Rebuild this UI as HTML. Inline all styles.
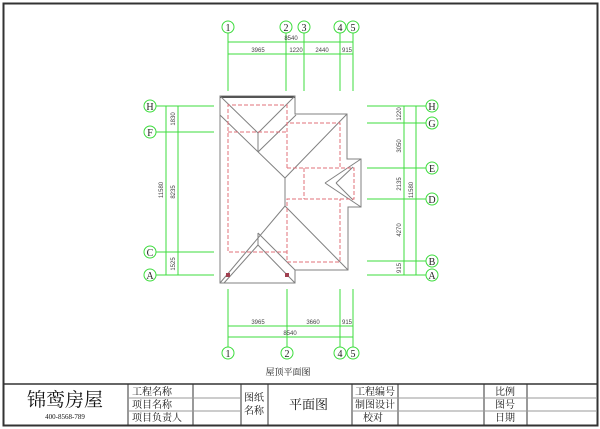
<!DOCTYPE html>
<html><head><meta charset="utf-8"><style>
html,body{margin:0;padding:0;background:#fff;}
svg{display:block;}
.g{stroke:#3ddc3d;stroke-width:1;fill:none;}
.c{stroke:#3ddc3d;stroke-width:1;fill:#fff;}
.r{stroke:#808080;stroke-width:1;fill:none;}
.d{stroke:#e0707a;stroke-width:1;fill:none;stroke-dasharray:4,2;}
.t{font-family:"Liberation Serif","Noto Serif CJK SC",serif;font-size:10px;fill:#222;text-anchor:middle;}
.s{font-family:"Liberation Sans",sans-serif;font-size:6px;fill:#444;text-anchor:middle;}
.k{font-family:"Liberation Serif","Noto Serif CJK SC",serif;fill:#111;}
.b{stroke:#555;stroke-width:1;fill:none;}
</style></head><body>
<svg width="600" height="429" viewBox="0 0 600 429" xmlns="http://www.w3.org/2000/svg">
<rect x="3.5" y="3.5" width="594" height="422" fill="none" stroke="#333" stroke-width="2"/>

<!-- top axes -->
<g class="g">
<line x1="228" y1="33" x2="228" y2="91"/><line x1="286" y1="33" x2="286" y2="91"/>
<line x1="304" y1="33" x2="304" y2="91"/><line x1="340" y1="33" x2="340" y2="91"/>
<line x1="353" y1="33" x2="353" y2="91"/>
<line x1="228" y1="42" x2="353" y2="42"/><line x1="228" y1="54" x2="353" y2="54"/>
</g>
<g class="c">
<circle cx="228" cy="27" r="6"/><circle cx="286" cy="27" r="6"/><circle cx="304" cy="27" r="6"/><circle cx="340" cy="27" r="6"/><circle cx="353" cy="27" r="6"/>
</g>
<g class="t"><text x="228" y="31">1</text><text x="286" y="31">2</text><text x="304" y="31">3</text><text x="340" y="31">4</text><text x="353" y="31">5</text></g>
<g class="s"><text x="291" y="40">8540</text><text x="258" y="52">3965</text><text x="296" y="52">1220</text><text x="322" y="52">2440</text><text x="347" y="52">915</text></g>

<!-- bottom axes -->
<g class="g">
<line x1="228" y1="289" x2="228" y2="347"/><line x1="287" y1="289" x2="287" y2="347"/>
<line x1="340" y1="289" x2="340" y2="347"/><line x1="353" y1="289" x2="353" y2="347"/>
<line x1="228" y1="326" x2="353" y2="326"/><line x1="228" y1="337" x2="353" y2="337"/>
</g>
<g class="c"><circle cx="228" cy="353" r="6"/><circle cx="287" cy="353" r="6"/><circle cx="340" cy="353" r="6"/><circle cx="353" cy="353" r="6"/></g>
<g class="t"><text x="228" y="357">1</text><text x="287" y="357">2</text><text x="340" y="357">4</text><text x="353" y="357">5</text></g>
<g class="s"><text x="258" y="324">3965</text><text x="313" y="324">3660</text><text x="347" y="324">915</text><text x="290" y="335">8540</text></g>
<text x="288" y="375" class="k" font-size="9" text-anchor="middle" fill="#444">屋顶平面图</text>

<!-- left axes -->
<g class="g">
<line x1="156" y1="106" x2="214" y2="106"/><line x1="156" y1="132" x2="214" y2="132"/>
<line x1="156" y1="252" x2="214" y2="252"/><line x1="156" y1="275" x2="214" y2="275"/>
<line x1="166" y1="106" x2="166" y2="275"/><line x1="178" y1="106" x2="178" y2="275"/>
</g>
<g class="c"><circle cx="150" cy="106" r="6"/><circle cx="150" cy="132" r="6"/><circle cx="150" cy="252" r="6"/><circle cx="150" cy="275" r="6"/></g>
<g class="t"><text x="150" y="110">H</text><text x="150" y="136">F</text><text x="150" y="256">C</text><text x="150" y="279">A</text></g>
<g class="s">
<text transform="translate(163,190) rotate(-90)">11580</text>
<text transform="translate(175,119) rotate(-90)">1830</text>
<text transform="translate(175,192) rotate(-90)">8235</text>
<text transform="translate(175,264) rotate(-90)">1525</text>
</g>

<!-- right axes -->
<g class="g">
<line x1="367" y1="106" x2="426" y2="106"/><line x1="367" y1="123" x2="426" y2="123"/>
<line x1="367" y1="168" x2="426" y2="168"/><line x1="367" y1="199" x2="426" y2="199"/>
<line x1="367" y1="261" x2="426" y2="261"/><line x1="367" y1="275" x2="426" y2="275"/>
<line x1="404" y1="106" x2="404" y2="275"/><line x1="416" y1="106" x2="416" y2="275"/>
</g>
<g class="c"><circle cx="432" cy="106" r="6"/><circle cx="432" cy="123" r="6"/><circle cx="432" cy="168" r="6"/><circle cx="432" cy="199" r="6"/><circle cx="432" cy="261" r="6"/><circle cx="432" cy="275" r="6"/></g>
<g class="t"><text x="432" y="110">H</text><text x="432" y="127">G</text><text x="432" y="172">E</text><text x="432" y="203">D</text><text x="432" y="265">B</text><text x="432" y="279">A</text></g>
<g class="s">
<text transform="translate(401,114) rotate(-90)">1220</text>
<text transform="translate(401,146) rotate(-90)">3050</text>
<text transform="translate(401,184) rotate(-90)">2135</text>
<text transform="translate(401,230) rotate(-90)">4270</text>
<text transform="translate(401,268) rotate(-90)">915</text>
<text transform="translate(413,190) rotate(-90)">11580</text>
</g>

<!-- building -->
<polygon class="r" stroke="#666" points="220,96 295,96 295,114 347,114 347,159 361,159 361,207 348,207 348,270 295,270 295,283 220,283"/>
<line x1="220" y1="97" x2="295" y2="97" stroke="#555" stroke-width="2"/>
<g class="r">
<line x1="220" y1="96" x2="258" y2="133"/><line x1="295" y1="96" x2="258" y2="133"/>
<line x1="258" y1="133" x2="258" y2="152"/><line x1="258" y1="152" x2="296" y2="115"/>
<line x1="220" y1="115" x2="285" y2="178"/>
<line x1="347" y1="114" x2="285" y2="178"/>
<line x1="285" y1="178" x2="285" y2="206"/>
<line x1="285" y1="206" x2="348" y2="270"/>
<line x1="285" y1="206" x2="220" y2="283"/>
<line x1="258" y1="233" x2="295" y2="270"/>
<line x1="258" y1="233" x2="258" y2="245"/>
<line x1="258" y1="245" x2="224" y2="283"/><line x1="258" y1="245" x2="295" y2="283"/>
<line x1="361" y1="159" x2="325" y2="183"/><line x1="325" y1="183" x2="361" y2="207"/>
<line x1="336" y1="183" x2="353" y2="167"/><line x1="336" y1="183" x2="353" y2="200"/>
</g>
<g class="d">
<polyline points="287,168 287,105 228,105 228,252 287,252"/>
<line x1="228" y1="132" x2="287" y2="132"/>
<polyline points="287,168 287,123 340,123 340,168"/>
<polyline points="287,168 354,168 354,199 287,199 287,262 340,262 340,199"/>
<line x1="304" y1="168" x2="304" y2="199"/>
</g>
<rect x="226" y="273" width="4" height="4" fill="#a04050"/>
<rect x="285" y="273" width="4" height="4" fill="#a04050"/>

<!-- title block -->
<g stroke="#333" stroke-width="1" fill="none">
<line x1="3" y1="384" x2="597" y2="384" stroke-width="1.5"/>
<line x1="128" y1="384" x2="128" y2="425"/><line x1="193" y1="384" x2="193" y2="425"/>
<line x1="241" y1="384" x2="241" y2="425"/><line x1="268" y1="384" x2="268" y2="425"/>
<line x1="352" y1="384" x2="352" y2="425"/><line x1="398" y1="384" x2="398" y2="425"/>
<line x1="484" y1="384" x2="484" y2="425"/><line x1="527" y1="384" x2="527" y2="425"/>
</g>
<g stroke="#999" stroke-width="1">
<line x1="128" y1="398" x2="241" y2="398"/><line x1="128" y1="411" x2="241" y2="411"/>
<line x1="352" y1="398" x2="597" y2="398"/><line x1="352" y1="411" x2="597" y2="411"/>
</g>
<text x="65" y="406" class="k" font-size="19" text-anchor="middle">锦鸾房屋</text>
<text x="65" y="419" class="k" font-size="7" text-anchor="middle">400-8568-789</text>
<g class="k" font-size="10">
<text x="132" y="395">工程名称</text><text x="132" y="408">项目名称</text><text x="132" y="421">项目负责人</text>
<text x="244" y="401">图纸</text><text x="244" y="414">名称</text>
<text x="289" y="409" font-size="13">平面图</text>
<text x="355" y="395">工程编号</text><text x="355" y="408">制图设计</text><text x="363" y="421">校对</text>
<text x="495" y="395">比例</text><text x="495" y="408">图号</text><text x="495" y="421">日期</text>
</g>
</svg>
</body></html>
